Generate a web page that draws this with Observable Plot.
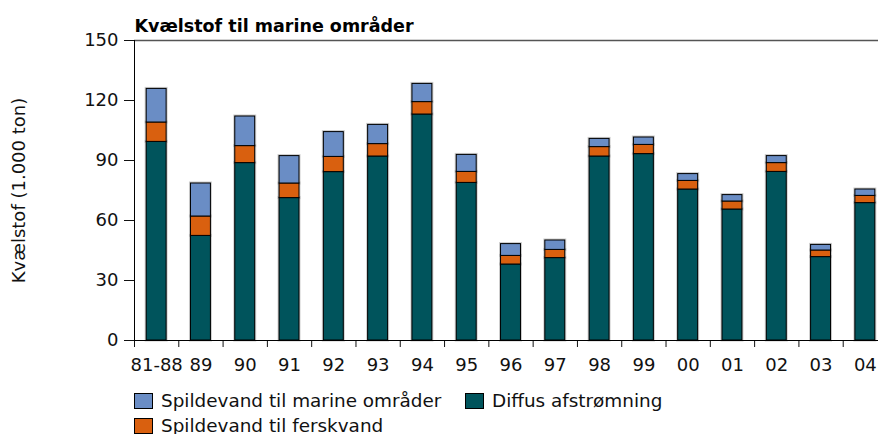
<!DOCTYPE html>
<html>
<head>
<meta charset="utf-8">
<script src="https://cdn.jsdelivr.net/npm/d3@7"></script>
<script src="https://cdn.jsdelivr.net/npm/@observablehq/plot@0.6"></script>
<style>
  body { margin: 0; background: #fff; font-family: "DejaVu Sans", sans-serif; }
  #wrap { position: relative; width: 878px; height: 434px; overflow: hidden; }
  .legend { position: absolute; left: 134px; top: 392px; display: grid; grid-template-columns: 331px auto; row-gap: 8px; font-size: 18.4px; color: #111; }
  .item { display: flex; align-items: center; height: 17px; }
  .sw { width: 19px; height: 16px; border: 1px solid #000; margin-right: 8px; box-sizing: border-box; }
</style>
</head>
<body>
<div id="wrap"></div>
<script>
const years = ["81-88","89","90","91","92","93","94","95","96","97","98","99","00","01","02","03","04"];
const diffus = [99.3, 52.3, 88.7, 71.2, 84.2, 92, 113, 78.8, 38, 41.2, 92, 93.2, 75.5, 65.5, 84.3, 41.7, 68.7];
const fersk  = [9.7, 9.7, 8.5, 7.3, 7.6, 6.2, 6.2, 5.5, 4.3, 4.1, 4.7, 4.6, 4.3, 4.0, 4.4, 3.3, 3.6];
const marine = [16.8, 16.5, 14.8, 13.7, 12.4, 9.6, 9.1, 8.5, 5.9, 4.7, 4.1, 3.7, 3.4, 3.2, 3.5, 2.8, 3.2];
const seriesNames = ["Diffus afstrømning", "Spildevand til ferskvand", "Spildevand til marine områder"];
const seriesColors = ["#00545c", "#d9600f", "#6a8dc5"];
const yTicks = [0, 30, 60, 90, 120, 150];
const title = "Kvælstof til marine områder";
const yLabel = "Kvælstof (1.000 ton)";

const data = [];
years.forEach((yr, i) => {
  data.push({year: yr, series: seriesNames[0], value: diffus[i]});
  data.push({year: yr, series: seriesNames[1], value: fersk[i]});
  data.push({year: yr, series: seriesNames[2], value: marine[i]});
});

const width = 878, marginLeft = 134, marginRight = -9;
const step = (width - marginLeft - marginRight) / years.length;

const chart = Plot.plot({
  width, height: 380,
  marginLeft, marginRight, marginTop: 40, marginBottom: 40,
  style: {fontFamily: "DejaVu Sans, sans-serif", fontSize: "18px", color: "#111", background: "#fff"},
  x: {type: "band", domain: years, paddingInner: 0.55, paddingOuter: 0.275, align: 0.5, round: false},
  y: {domain: [0, 150]},
  color: {domain: seriesNames, range: seriesColors},
  marks: [
    Plot.axisY({ticks: yTicks, tickSize: 10, tickPadding: 6, label: yLabel, labelAnchor: "center", labelArrow: "none", labelOffset: 122, fontSize: 18}),
    Plot.axisX({tickSize: 7, text: null, dx: -step / 2, label: null}),
    Plot.axisX({tickSize: 0, tickPadding: 18, label: null, fontSize: 18}),
    Plot.barY(data, Plot.stackY({x: "year", y: "value", z: "series", order: seriesNames, stroke: "#999", strokeWidth: 3, strokeOpacity: 0.5, fill: "series"})),
    Plot.barY(data, Plot.stackY({x: "year", y: "value", z: "series", order: seriesNames, fill: "series", stroke: "#000", strokeWidth: 1})),
    Plot.ruleY([0], {stroke: "#000", strokeWidth: 1}),
    Plot.ruleY([150], {stroke: "#555", strokeWidth: 1.5}),
    Plot.ruleX([years[0]], {y1: 0, y2: 150, dx: -step / 2, stroke: "#000", strokeWidth: 1}),
    Plot.text([title], {frameAnchor: "top-left", text: d => d, lineAnchor: "bottom", dy: -9, fontWeight: "bold", fontSize: 17.5, fill: "#000"})
  ]
});

const wrap = document.getElementById("wrap");
wrap.appendChild(chart);

const legend = document.createElement("div");
legend.className = "legend";
const order = [2, 0, 1];
order.forEach(i => {
  const item = document.createElement("div");
  item.className = "item";
  const sw = document.createElement("span");
  sw.className = "sw";
  sw.style.background = seriesColors[i];
  const t = document.createElement("span");
  t.textContent = seriesNames[i];
  item.appendChild(sw);
  item.appendChild(t);
  legend.appendChild(item);
});
wrap.appendChild(legend);
</script>
</body>
</html>
